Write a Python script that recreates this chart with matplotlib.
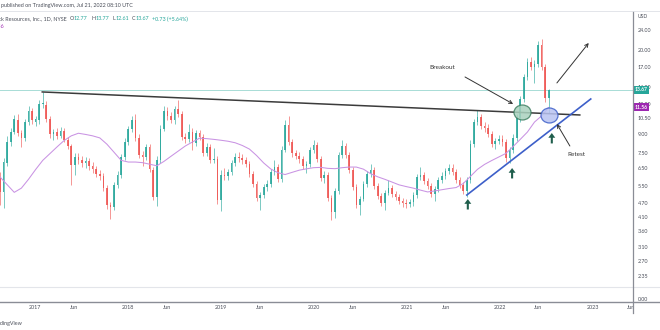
import matplotlib
matplotlib.use("Agg")
import matplotlib.pyplot as plt
import matplotlib.dates as mdates
import matplotlib.transforms as mtransforms
from matplotlib.lines import Line2D
from matplotlib.patches import Rectangle
from matplotlib.path import Path
from matplotlib.ticker import FixedLocator, NullLocator
import numpy as np
import pandas as pd

plt.rcParams['font.family'] = ['Lato', 'DejaVu Sans']

# ---------------- data ----------------
bar_dates = pd.date_range('2016-08-15', periods=155, freq='14D')

opens = [5.93, 5.20, 6.84, 8.34, 9.17, 10.27, 9.08, 8.66, 10.08, 11.18,
         10.08, 10.27, 11.95, 11.84, 10.37, 9.00, 9.17, 8.83, 9.26, 8.50,
         8.03, 6.71, 7.24, 7.03, 6.84, 6.97, 6.65, 6.46, 6.16, 6.05,
         5.40, 4.60, 4.51, 5.55, 6.10, 7.24, 8.34, 9.43, 10.27, 8.66,
         7.38, 7.24, 7.96, 6.40, 4.96, 7.03, 9.43, 11.18, 10.67, 10.27,
         11.40, 10.87, 8.74, 8.58, 9.17, 8.26, 9.08, 8.74, 7.52, 7.96,
         7.03, 7.10, 4.82, 6.10, 6.05, 6.28, 6.84, 7.24, 7.17, 7.03,
         6.77, 6.16, 5.61, 4.91, 5.05, 5.45, 5.61, 6.28, 6.58, 5.88,
         7.73, 9.80, 8.34, 7.52, 7.31, 7.10, 6.65, 6.77, 7.73, 8.11,
         7.10, 5.93, 6.10, 4.91, 4.30, 5.25, 7.38, 8.03, 7.38, 6.40,
         5.45, 4.60, 4.86, 5.61, 6.16, 6.40, 5.50, 5.00, 4.68, 5.15,
         5.40, 5.10, 4.96, 4.77, 4.68, 4.64, 4.73, 5.05, 5.99, 6.10,
         5.77, 5.50, 5.10, 5.35, 5.82, 6.05, 6.34, 6.52, 6.28, 5.82,
         5.55, 5.25, 5.82, 8.18, 10.08, 10.57, 9.70, 9.52, 9.00, 8.18,
         8.42, 8.58, 8.34, 7.17, 7.73, 8.66, 10.47, 12.53, 15.43, 17.78,
         16.96, 17.45, 20.88, 16.96, 12.65]

highs = [6.28, 7.17, 8.83, 9.52, 10.77, 10.87, 9.34, 10.37, 11.72, 11.51,
         10.67, 12.41, 13.39, 12.29, 10.67, 9.43, 9.52, 9.61, 9.52, 8.74,
         8.18, 7.52, 7.52, 7.31, 7.24, 7.17, 6.90, 6.65, 6.40, 6.22,
         5.55, 4.73, 5.71, 6.34, 7.45, 8.66, 9.70, 10.67, 10.87, 9.00,
         7.66, 8.18, 8.18, 6.58, 7.31, 9.80, 11.72, 11.61, 11.08, 11.72,
         12.41, 11.18, 9.08, 9.89, 9.52, 9.34, 9.34, 9.00, 8.26, 8.18,
         7.88, 7.31, 6.40, 6.52, 6.46, 7.03, 7.52, 7.59, 7.45, 7.24,
         6.97, 6.34, 5.77, 5.20, 5.61, 5.82, 6.46, 7.03, 6.77, 8.03,
         10.27, 10.67, 8.58, 7.73, 7.59, 7.31, 6.97, 7.96, 8.50, 8.34,
         7.31, 6.34, 6.28, 5.05, 5.40, 7.59, 8.50, 8.26, 7.59, 6.58,
         5.61, 5.00, 5.77, 6.34, 6.77, 6.58, 5.66, 5.15, 5.30, 5.82,
         5.55, 5.25, 5.10, 4.91, 4.86, 4.86, 5.20, 6.16, 6.58, 6.28,
         5.93, 5.66, 5.50, 5.99, 6.28, 6.52, 6.77, 6.77, 6.46, 5.99,
         5.71, 5.99, 8.50, 10.37, 11.29, 10.87, 10.08, 9.89, 9.26, 8.66,
         8.91, 8.91, 8.58, 7.96, 9.00, 10.87, 12.89, 15.87, 18.46, 18.64,
         18.12, 21.69, 22.10, 17.45, 13.77]

lows = [4.60, 4.47, 6.65, 8.03, 9.00, 8.83, 7.96, 8.42, 9.80, 9.89,
        9.70, 9.89, 11.51, 10.08, 8.66, 8.50, 8.58, 8.66, 8.34, 7.81,
        5.55, 6.10, 6.77, 6.58, 6.52, 6.40, 6.22, 5.99, 5.82, 5.25,
        4.43, 4.03, 4.38, 5.40, 5.93, 7.03, 8.11, 9.17, 8.42, 7.17,
        6.65, 7.03, 6.28, 4.82, 4.55, 6.84, 9.26, 10.27, 9.98, 9.89,
        10.57, 8.50, 8.26, 8.34, 7.73, 8.03, 8.50, 7.31, 7.31, 6.84,
        6.84, 4.64, 4.34, 5.82, 5.82, 6.10, 6.65, 6.90, 6.77, 6.58,
        5.99, 5.45, 4.77, 4.38, 4.91, 5.25, 5.45, 6.10, 5.71, 5.71,
        7.59, 8.11, 7.24, 7.10, 6.84, 6.46, 6.22, 6.58, 7.52, 6.90,
        5.77, 5.66, 4.77, 3.99, 4.06, 5.10, 7.17, 7.17, 6.22, 5.30,
        4.47, 4.18, 4.77, 5.45, 5.99, 5.35, 4.86, 4.55, 4.38, 5.05,
        4.96, 4.82, 4.64, 4.51, 4.47, 4.51, 4.55, 4.91, 5.82, 5.61,
        5.35, 4.96, 4.77, 5.20, 5.66, 5.88, 6.16, 6.10, 5.66, 5.40,
        5.10, 4.96, 5.66, 7.96, 9.80, 9.43, 9.17, 8.74, 7.96, 7.81,
        8.18, 8.03, 6.90, 6.84, 7.52, 8.42, 10.08, 12.18, 14.99, 16.48,
        14.58, 16.96, 16.48, 12.18, 10.97]

closes = [5.20, 6.90, 8.34, 9.17, 10.37, 9.08, 8.66, 10.08, 11.18, 10.27,
          10.37, 11.95, 12.06, 10.37, 9.00, 9.17, 8.83, 9.26, 8.50, 8.03,
          6.71, 7.24, 7.03, 6.84, 6.97, 6.65, 6.46, 6.16, 6.05, 5.40,
          4.60, 4.51, 5.55, 6.10, 7.24, 8.34, 9.43, 10.27, 8.66, 7.38,
          7.24, 7.96, 6.46, 4.96, 7.03, 9.43, 11.18, 10.67, 10.27, 11.40,
          10.87, 8.74, 8.58, 9.17, 8.26, 9.08, 8.74, 7.52, 7.96, 7.03,
          7.10, 4.82, 6.10, 6.05, 6.28, 6.84, 7.24, 7.17, 7.03, 6.77,
          6.16, 5.61, 4.91, 5.05, 5.45, 5.61, 6.28, 6.58, 5.88, 7.73,
          9.80, 8.34, 7.52, 7.31, 7.10, 6.65, 6.77, 7.73, 8.11, 7.10,
          5.93, 6.10, 4.91, 4.30, 5.25, 7.38, 8.03, 7.38, 6.40, 5.45,
          4.60, 4.86, 5.61, 6.16, 6.40, 5.50, 5.00, 4.68, 5.15, 5.40,
          5.10, 4.96, 4.77, 4.68, 4.64, 4.73, 5.05, 5.99, 6.10, 5.77,
          5.50, 5.10, 5.35, 5.82, 6.05, 6.34, 6.52, 6.28, 5.82, 5.55,
          5.25, 5.82, 8.18, 10.08, 10.57, 9.70, 9.52, 9.00, 8.18, 8.42,
          8.58, 8.34, 7.17, 7.73, 8.66, 10.47, 12.53, 15.43, 17.78, 16.96,
          17.45, 20.88, 16.96, 12.65, 13.67]

# 200-day moving average, one value per four weeks
ma_dates = bar_dates[::2]
ma_values = [5.99, 5.57, 5.18, 5.39, 5.86, 6.43, 7.01, 7.47, 7.96, 8.46,
             8.84, 9.06, 8.96, 8.84, 8.67, 8.17, 7.57, 7.01, 6.90, 6.90,
             6.86, 6.76, 6.66, 6.94, 7.29, 7.65, 8.03, 8.34, 8.65, 8.61,
             8.55, 8.48, 8.40, 8.28, 8.07, 7.80, 7.34, 6.84, 6.46, 6.24,
             6.13, 6.26, 6.39, 6.47, 6.54, 6.56, 6.50, 6.48, 6.54, 6.58,
             6.58, 6.45, 6.18, 6.00, 5.86, 5.71, 5.56, 5.47, 5.39, 5.29,
             5.20, 5.25, 5.31, 5.37, 5.42, 5.63, 6.02, 6.44, 6.75, 7.00,
             7.24, 7.49, 7.99, 8.55, 9.16, 10.07, 10.68, 11.56]

price_ticks = [24.00, 20.00, 17.00, 14.00, 12.00, 10.50, 9.00, 7.50,
               6.50, 5.50, 4.70, 4.10, 3.60, 3.10, 2.70, 2.35]

year_ticks = ['2017', '2018', '2019', '2020', '2021', '2022', '2023']

# hand-drawn annotations (date, price)
resistance = [('2017-01-28', 13.39), ('2022-11-10', 10.77)]
support = [('2021-08-23', 5.05), ('2022-12-23', 12.53)]
breakout_zone = ('2022-03-29', 11.08)
retest_zone = ('2022-07-11', 10.77)
breakout_label = ('2021-05-18', 16.80)
breakout_arrow = [('2021-08-16', 15.43), ('2022-02-21', 11.95)]
target_arrow = [('2022-08-12', 14.58), ('2022-12-15', 21.28)]
retest_label = ('2022-10-26', 7.38)
retest_arrow = [('2022-10-02', 8.03), ('2022-08-12', 9.89)]
bounce_points = [('2021-08-27', 4.86), ('2022-02-17', 6.52), ('2022-07-23', 9.08)]

# ---------------- styling ----------------
UP = '#26a69a'
DOWN = '#ef5350'
MA_COLOR = '#c993e3'
TEXT = '#4a4e59'
AXIS = '#8a8d96'
W, H = 660, 330


def fx(px):
    return px / W


def fy(py):
    return 1 - py / H


def dn(s):
    return mdates.date2num(pd.Timestamp(s))


fig = plt.figure(figsize=(6.6, 3.3), dpi=100)
fig.patch.set_facecolor('white')

ax = fig.add_axes([0, fy(287), fx(633), fy(11) - fy(287)])
axv = fig.add_axes([0, fy(302), fx(633), fy(287) - fy(302)], sharex=ax)

for a in (ax, axv):
    for sp in a.spines.values():
        sp.set_visible(False)
    a.set_facecolor('none')

# candles
d = mdates.date2num(bar_dates)
o = np.array(opens)
h = np.array(highs)
l = np.array(lows)
c = np.array(closes)
cols = np.where(c >= o, UP, DOWN)
ax.vlines(d, l, h, colors=cols, lw=0.5, alpha=0.85, zorder=2)
ax.bar(d, np.abs(c - o), bottom=np.minimum(o, c), width=6.5,
       color=cols, alpha=0.85, linewidth=0, zorder=2)

# moving average
ax.plot(mdates.date2num(ma_dates), ma_values, color=MA_COLOR, lw=0.75, zorder=3)

# last price line
ax.axhline(closes[-1], color='#a8dcd6', lw=0.7, zorder=1)

ax.set_yscale('log')
ax.set_ylim(2.1156, 28.80)
ax.set_xlim(dn('2016-08-15'), dn('2023-06-07'))

ax.yaxis.set_major_locator(FixedLocator(price_ticks))
ax.yaxis.set_minor_locator(NullLocator())
ax.set_yticks(price_ticks)
ax.set_yticklabels([f'{v:.2f}' for v in price_ticks])
ax.tick_params(axis='y', which='both', left=False, labelleft=False,
               right=False, labelright=True, length=0, pad=3.6,
               labelsize=3.9, labelcolor=TEXT)
ax.tick_params(axis='x', bottom=False, labelbottom=False, length=0)

# trend lines
ax.plot([dn(p[0]) for p in resistance], [p[1] for p in resistance],
        color='#3b3b3b', lw=1.1, zorder=4)
ax.plot([dn(p[0]) for p in support], [p[1] for p in support],
        color='#3d5fc9', lw=1.2, zorder=4)

# highlighted zones
circ = Path.unit_circle()
ell = Path(circ.vertices * np.array([1.0, 0.88]), circ.codes)
ax.scatter([dn(breakout_zone[0])], [breakout_zone[1]], marker=ell, s=150,
           facecolor='#a9d2bf', edgecolor='#3f7f62', lw=0.9, alpha=0.85, zorder=5)
ax.scatter([dn(retest_zone[0])], [retest_zone[1]], marker=ell, s=150,
           facecolor='#b9c3f2', edgecolor='#3d5fc9', lw=0.9, alpha=0.85, zorder=5)

# arrows and labels
arrow_kw = dict(arrowstyle='->', color='#333333', lw=0.7, mutation_scale=6,
                shrinkA=0, shrinkB=0)
for seg in (breakout_arrow, target_arrow, retest_arrow):
    ax.annotate('', xy=(dn(seg[1][0]), seg[1][1]),
                xytext=(dn(seg[0][0]), seg[0][1]), arrowprops=arrow_kw, zorder=6)
ax.text(dn(breakout_label[0]), breakout_label[1], 'Breakout', fontsize=4.6,
        color='#333333', ha='center', va='center', zorder=6)
ax.text(dn(retest_label[0]), retest_label[1], 'Retest', fontsize=4.6,
        color='#333333', ha='center', va='center', zorder=6)

for dt, pr in bounce_points:
    ax.annotate('', xy=(dn(dt), pr), xytext=(0, -7.5), textcoords='offset points',
                arrowprops=dict(facecolor='#1f5e4c', edgecolor='none', width=1.5,
                                headwidth=5.0, headlength=3.4, shrink=0),
                zorder=6)

# price tags on the scale
tr = mtransforms.blended_transform_factory(ax.transAxes, ax.transData)
ax.annotate(f'{closes[-1]:.2f}', xy=(1.0, closes[-1]), xycoords=tr,
            xytext=(1.3, 0), textcoords='offset points', ha='left', va='center',
            fontsize=3.6, color='white', fontweight='bold',
            bbox=dict(boxstyle='square,pad=0.3', fc=UP, ec='none'),
            annotation_clip=False, zorder=10)
ax.annotate(f'{ma_values[-1]:.2f}', xy=(1.0, ma_values[-1]), xycoords=tr,
            xytext=(1.3, 0), textcoords='offset points', ha='left', va='center',
            fontsize=3.6, color='white', fontweight='bold',
            bbox=dict(boxstyle='square,pad=0.3', fc='#9c27b0', ec='none'),
            annotation_clip=False, zorder=10)

# lower pane
axv.set_ylim(-0.2, 0.8)
axv.set_yticks([0])
axv.set_yticklabels(['0.00'])
axv.tick_params(axis='y', left=False, labelleft=False, right=False,
                labelright=True, length=0, pad=3.6, labelsize=3.9, labelcolor=TEXT)
xt, xl = [], []
for y in year_ticks:
    xt += [dn(f'{y}-01-01'), dn(f'{y}-06-01')]
    xl += [y, 'Jun']
axv.set_xticks(xt)
axv.set_xticklabels(xl)
axv.tick_params(axis='x', length=0, pad=2.2, labelsize=3.9, labelcolor=TEXT)

# frame lines
fig.add_artist(Line2D([0, 1], [fy(11), fy(11)], color='#e3e5ea', lw=0.7,
                      transform=fig.transFigure, zorder=4))
fig.add_artist(Line2D([0, 1], [fy(287), fy(287)], color='#e3e5ea', lw=0.8,
                      transform=fig.transFigure, zorder=4))
fig.add_artist(Rectangle((fx(633.5), fy(313)), fx(30), fy(303) - fy(313),
                         transform=fig.transFigure, fc='white', ec='none', zorder=5))
fig.add_artist(Line2D([0, 1], [fy(302), fy(302)], color=AXIS, lw=1.0,
                      transform=fig.transFigure, zorder=6))
fig.add_artist(Line2D([fx(633), fx(633)], [fy(12), fy(313)], color=AXIS, lw=0.9,
                      transform=fig.transFigure, zorder=6))

# header and scale caption
fig.text(fx(638), fy(17), 'USD', fontsize=3.6, color=TEXT, va='center')
fig.text(fx(1), fy(5.5), 'published on TradingView.com, Jul 21, 2022 08:10 UTC',
         fontsize=3.9, color=TEXT, va='center')

name = fig.text(fx(67), fy(19), 'Comstock Resources, Inc., 1D, NYSE',
                fontsize=3.9, color=TEXT, va='center', ha='right')
prev = name
pieces = [('O', TEXT, 2.0), ('12.77', UP, 0), ('H', TEXT, 2.4), ('13.77', UP, 0),
          ('L', TEXT, 2.4), ('12.61', UP, 0), ('C', TEXT, 2.4), ('13.67', UP, 0),
          ('+0.73 (+5.64%)', UP, 2.4)]
for txt, col, gap in pieces:
    prev = ax.annotate(txt, xy=(1, 0.5), xycoords=prev, xytext=(gap, 0),
                       textcoords='offset points', ha='left', va='center',
                       fontsize=3.9, color=col, annotation_clip=False)
fig.text(fx(4), fy(27), f'{ma_values[-1]:.2f}', fontsize=3.9, color='#9c27b0',
         va='center', ha='right')
fig.text(fx(23), fy(323), 'TradingView', fontsize=3.9, color=TEXT,
         va='center', ha='right')

fig.savefig('out.png', dpi=100, facecolor='white')
